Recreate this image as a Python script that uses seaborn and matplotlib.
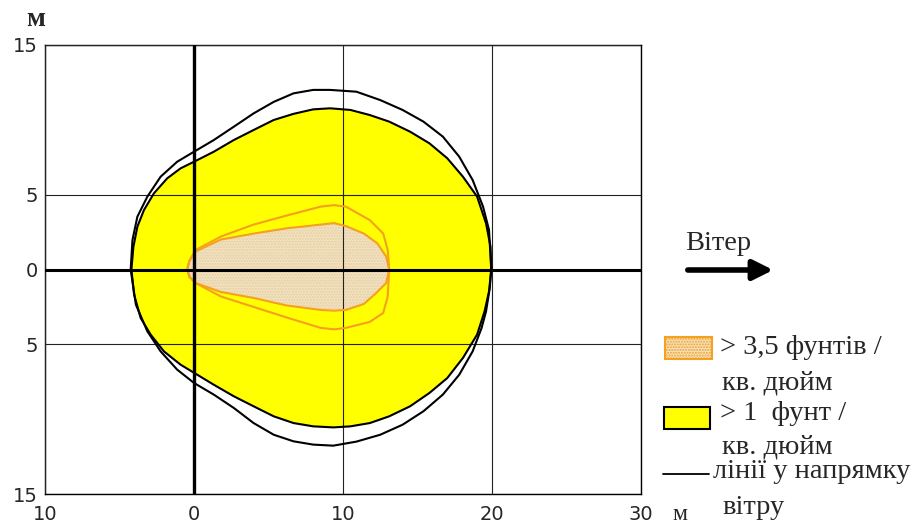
import matplotlib
matplotlib.use("Agg")
import matplotlib.pyplot as plt
import seaborn as sns
from matplotlib.patches import Rectangle
from matplotlib.lines import Line2D

# zone > 1 psi (yellow fill)
yellow_x = [19.95, 19.9, 19.6, 19.0, 18.05, 17.0, 15.8, 14.5, 13.1, 11.8, 10.5, 9.13,
            8.0, 6.68, 5.35, 4.0, 2.67, 1.33, 0, -0.9, -1.8, -2.69, -3.36, -3.8, -4.07, -4.2,
            -4.02, -3.58, -2.91, -2.02, -0.9, 0, 1.33, 2.67, 4.0, 5.35, 6.68, 8.0, 9.35,
            10.5, 11.8, 13.1, 14.5, 15.8, 17.0, 18.05, 19.0, 19.5, 19.8, 19.95]
yellow_y = [0, 1.53, 3.08, 4.87, 6.2, 7.43, 8.43, 9.21, 9.88, 10.32, 10.66, 10.77,
            10.7, 10.4, 9.99, 9.32, 8.65, 7.87, 7.2, 6.76, 6.09, 5.09, 3.97, 2.86, 1.5, 0,
            -1.68, -3.24, -4.35, -5.47, -6.36, -6.9, -7.7, -8.47, -9.14, -9.81, -10.26, -10.48, -10.55,
            -10.48, -10.26, -9.81, -9.14, -8.25, -7.25, -5.91, -4.35, -2.8, -1.46, 0]

# wind-direction line (outer black contour)
outer_x = [19.95, 19.8, 19.4, 18.7, 17.8, 16.7, 15.4, 14.0, 12.5, 10.9, 9.13, 8.0,
           6.68, 5.35, 4.0, 2.67, 1.33, 0, -1.13, -2.24, -3.13, -3.8, -4.13, -4.25,
           -3.9, -3.13, -2.24, -1.13, 0, 1.33, 2.67, 4.0, 5.35, 6.68, 8.0, 9.35,
           10.9, 12.5, 14.0, 15.4, 16.7, 17.8, 18.7, 19.3, 19.6, 19.85, 19.95]
outer_y = [0, 2.64, 4.2, 5.98, 7.54, 8.88, 9.88, 10.66, 11.32, 11.88, 12.0, 12.0,
           11.77, 11.2, 10.43, 9.54, 8.65, 7.87, 7.2, 6.2, 4.87, 3.53, 1.97, 0,
           -2.35, -4.13, -5.47, -6.69, -7.58, -8.36, -9.25, -10.26, -11.04, -11.48, -11.7, -11.77,
           -11.5, -11.04, -10.37, -9.47, -8.36, -7.03, -5.47, -3.91, -2.8, -1.24, 0]

# zone > 3.5 psi (beige fill)
core_x = [13.1, 12.9, 12.3, 11.4, 10.2, 9.4, 8.5, 6.2, 4.0, 1.8, 0.1, -0.3, -0.46,
          -0.3, 0.1, 1.8, 4.0, 6.2, 8.5, 9.4, 10.2, 11.4, 12.2, 12.9, 13.1]
core_y = [0, 0.86, 1.75, 2.4, 2.9, 3.1, 3.0, 2.75, 2.4, 2.0, 1.2, 0.6, 0,
          -0.5, -0.9, -1.5, -1.9, -2.4, -2.7, -2.75, -2.7, -2.3, -1.6, -0.9, 0]

# orange contour around the core
orange_x = [13.1, 13.0, 12.7, 11.8, 10.2, 9.4, 8.5, 6.2, 4.0, 1.8, 0.1, -0.3, -0.46,
            -0.3, 0.1, 1.8, 4.0, 6.2, 8.5, 9.4, 10.2, 11.8, 12.7, 13.0, 13.1]
orange_y = [0, 1.3, 2.4, 3.3, 4.2, 4.3, 4.2, 3.6, 3.0, 2.2, 1.3, 0.6, 0,
            -0.5, -0.9, -1.8, -2.5, -3.2, -3.9, -4.0, -3.9, -3.5, -2.9, -1.8, 0]

x_ticks = [-10, 0, 10, 20, 30]
x_labels = ["10", "0", "10", "20", "30"]
y_ticks = [-15, -5, 0, 5, 15]
y_labels = ["15", "5", "0", "5", "15"]

legend_lines = ["> 3,5 фунтів /", "кв. дюйм", "> 1  фунт /", "кв. дюйм",
                "лінії у напрямку", "вітру"]

sns.set_style("white")
W, H = 920, 524
fig = plt.figure(figsize=(9.2, 5.24), dpi=100)
ax = fig.add_axes([45 / W, 1 - 494 / H, 596 / W, 449 / H])

ORANGE = "#f5a01e"
BEIGE = "#f2e2c2"

ax.fill(yellow_x, yellow_y, color="#ffff00", lw=0, zorder=1)
ax.fill(core_x, core_y, color=BEIGE, lw=0, zorder=1.2)
ax.fill(core_x, core_y, facecolor="none", edgecolor="#e6cf9f", hatch="......", lw=0, zorder=1.3)

sns.lineplot(x=outer_x, y=outer_y, sort=False, estimator=None, color="black", lw=1.5, ax=ax, zorder=3)
sns.lineplot(x=yellow_x, y=yellow_y, sort=False, estimator=None, color="black", lw=1.5, ax=ax, zorder=3)
sns.lineplot(x=orange_x, y=orange_y, sort=False, estimator=None, color=ORANGE, lw=1.5, ax=ax, zorder=3)
sns.lineplot(x=core_x, y=core_y, sort=False, estimator=None, color=ORANGE, lw=1.5, ax=ax, zorder=3)

ax.set_xlim(-10, 30)
ax.set_ylim(-15, 15)
ax.set_xticks(x_ticks)
ax.set_xticklabels(x_labels)
ax.set_yticks(y_ticks)
ax.set_yticklabels(y_labels)
ax.tick_params(length=0, labelsize=14, pad=5)
ax.tick_params(axis="x", pad=8)
ax.grid(True, color="#222222", lw=0.8)
ax.set_axisbelow(False)
for s in ax.spines.values():
    s.set_color("black")
    s.set_linewidth(1.0)

ax.axhline(0, color="black", lw=2.2, zorder=4)
ax.axvline(0, color="black", lw=2.4, zorder=4)

serif = "Liberation Serif"
fig.text(36 / W, 1 - 19 / H, "м", family=serif, fontsize=20, ha="center", va="center", weight="bold")
fig.text(680 / W, 1 - 515 / H, "м", family=serif, fontsize=17, ha="center", va="center")

# wind label and arrow
fig.text(685 / W, 1 - 244 / H, "Вітер", family=serif, fontsize=20.5, ha="left", va="center")
ax.annotate("", xy=(776, H - 270), xytext=(685, H - 270), xycoords="figure pixels",
            textcoords="figure pixels",
            arrowprops=dict(arrowstyle="-|>", lw=4, color="black", mutation_scale=30))

# legend
fig.add_artist(Rectangle((665 / W, 1 - 359 / H), 47 / W, 22 / H, transform=fig.transFigure,
                         facecolor=BEIGE, edgecolor=ORANGE, lw=1.5, hatch="......"))
fig.add_artist(Rectangle((664 / W, 1 - 429 / H), 46 / W, 22 / H, transform=fig.transFigure,
                         facecolor="#ffff00", edgecolor="black", lw=1.5))
fig.add_artist(Line2D([663 / W, 709 / W], [1 - 474 / H, 1 - 474 / H], transform=fig.transFigure,
                      color="black", lw=1.3))

text_pos = [(720, 348), (722, 383), (720, 414), (722, 447), (713, 472), (722, 508)]
for (px, py), t in zip(text_pos, legend_lines):
    fig.text(px / W, 1 - py / H, t, family=serif, fontsize=20.5, ha="left", va="center")

fig.savefig("out.png", dpi=100)
